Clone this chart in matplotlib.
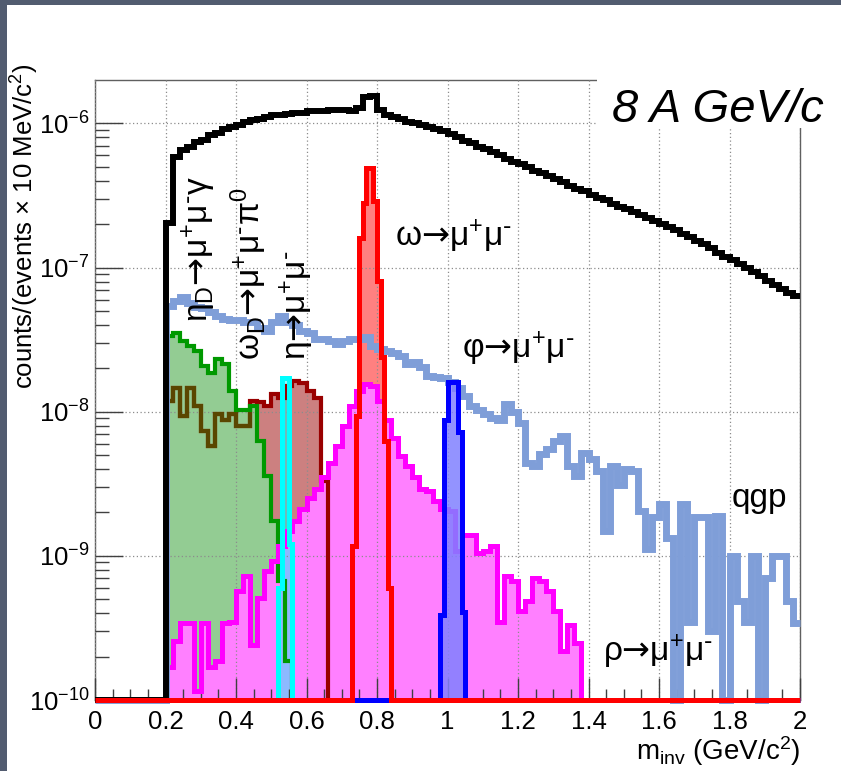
import numpy as np
import matplotlib
matplotlib.use("Agg")
import matplotlib.pyplot as plt
from matplotlib.patches import Rectangle
from matplotlib.ticker import MultipleLocator, FixedLocator, NullFormatter, FuncFormatter

plt.rcParams['font.family'] = 'Liberation Sans'
plt.rcParams['mathtext.fontset'] = 'custom'
plt.rcParams['mathtext.rm'] = 'Liberation Sans'
plt.rcParams['mathtext.it'] = 'Liberation Sans:italic'
plt.rcParams['mathtext.bf'] = 'Liberation Sans:bold'
plt.rcParams['mathtext.sf'] = 'DejaVu Sans'   # only used for arrows and hyphens

# counts/(events x 10 MeV/c^2)
YMIN, YMAX = 1e-10, 2e-6

# 20 MeV bins starting at 0.20 GeV/c^2
total = [2.05e-7, 5.8e-7, 6.5e-7, 6.9e-7, 7.4e-7, 7.7e-7, 8.3e-7, 8.6e-7, 9.1e-7, 9.4e-7,
         9.7e-7, 1.02e-6, 1.05e-6, 1.08e-6, 1.1e-6, 1.14e-6, 1.15e-6, 1.17e-6, 1.19e-6, 1.19e-6,
         1.21e-6, 1.21e-6, 1.21e-6, 1.23e-6, 1.23e-6, 1.23e-6, 1.21e-6, 1.27e-6, 1.52e-6, 1.56e-6,
         1.23e-6, 1.15e-6, 1.1e-6, 1.07e-6, 1.03e-6, 1.0e-6, 9.7e-7, 9.4e-7, 9.1e-7, 8.8e-7,
         8.4e-7, 8.0e-7, 7.6e-7, 7.3e-7, 6.9e-7, 6.6e-7, 6.3e-7, 6.0e-7, 5.7e-7, 5.4e-7,
         5.2e-7, 4.95e-7, 4.7e-7, 4.5e-7, 4.3e-7, 4.1e-7, 3.9e-7, 3.7e-7, 3.5e-7, 3.4e-7,
         3.2e-7, 3.06e-7, 2.92e-7, 2.78e-7, 2.65e-7, 2.53e-7, 2.41e-7, 2.3e-7, 2.19e-7, 2.09e-7,
         1.99e-7, 1.9e-7, 1.81e-7, 1.7e-7, 1.62e-7, 1.54e-7, 1.45e-7, 1.36e-7, 1.27e-7, 1.19e-7,
         1.12e-7, 1.05e-7, 1.0e-7, 9.3e-8, 8.7e-8, 8.1e-8, 7.6e-8, 7.1e-8, 6.7e-8, 6.3e-8]

qgp = [5.4e-8, 5.9e-8, 6.2e-8, 5.7e-8, 5.3e-8, 5.2e-8, 4.9e-8, 4.6e-8, 4.4e-8, 4.3e-8,
       4.3e-8, 4.2e-8, 4.2e-8, 3.8e-8, 3.65e-8, 4.2e-8, 4.6e-8, 4.2e-8, 4.0e-8, 3.65e-8,
       3.5e-8, 3.2e-8, 3.2e-8, 3.1e-8, 2.95e-8, 3.1e-8, 3.2e-8, 3.2e-8, 3.3e-8, 2.87e-8,
       2.73e-8, 2.65e-8, 2.55e-8, 2.45e-8, 2.15e-8, 2.2e-8, 2.05e-8, 1.78e-8, 1.73e-8, 1.7e-8,
       1.6e-8, 1.45e-8, 1.29e-8, 1.1e-8, 1.02e-8, 9.7e-9, 9.0e-9, 8.7e-9, 1.13e-8, 9.9e-9,
       8.4e-9, 4.4e-9, 4.2e-9, 5.1e-9, 5.5e-9, 6.3e-9, 6.8e-9, 4.2e-9, 3.6e-9, 5.2e-9,
       4.7e-9, 3.9e-9, 1.49e-9, 4.2e-9, 3.1e-9, 4.0e-9, 3.9e-9, 2.05e-9, 1.12e-9, 1.85e-9,
       2.3e-9, 1.32e-9, 0, 2.3e-9, 3.5e-10, 1.85e-9, 1.85e-9, 3.0e-10, 1.9e-9, 0,
       1.0e-9, 4.9e-10, 3.5e-10, 1.0e-9, 0, 7.0e-10, 1.0e-9, 1.0e-9, 4.9e-10, 3.4e-10]

eta_dalitz = [3.37e-8, 3.5e-8, 3.1e-8, 2.87e-8, 2.65e-8, 2.08e-8, 1.86e-8, 2.33e-8, 2.15e-8,
              1.4e-8, 1.02e-8, 1.02e-8, 1.1e-8, 6.3e-9, 3.6e-9, 1.75e-9, 6.7e-10, 1.87e-10]

omega_dalitz = [1.19e-8, 1.47e-8, 9.4e-9, 1.47e-8, 1.1e-8, 7.4e-9, 5.8e-9, 9.6e-9, 8.7e-9,
                9.6e-9, 8.0e-9, 8.0e-9, 1.19e-8, 1.17e-8, 1.1e-8, 1.33e-8, 1.24e-8, 1.51e-8,
                1.64e-8, 1.59e-8, 1.4e-8, 1.24e-8, 3.3e-9]

rho = [1.7e-10, 2.57e-10, 3.4e-10, 3.4e-10, 1.15e-10, 3.4e-10, 1.7e-10, 1.87e-10, 3.4e-10,
       3.5e-10, 5.7e-10, 7.3e-10, 2.4e-10, 5.1e-10, 7.9e-10, 9.2e-10, 1.17e-9, 1.49e-9,
       1.75e-9, 2.1e-9, 2.5e-9, 2.9e-9, 3.5e-9, 4.4e-9, 5.8e-9, 8.0e-9, 1.1e-8, 1.4e-8,
       1.56e-8, 1.51e-8, 1.19e-8, 8.7e-9, 6.6e-9, 4.9e-9, 4.2e-9, 3.5e-9, 2.9e-9, 2.83e-9,
       2.41e-9, 2.1e-9, 2.05e-9, 1.08e-9, 1.4e-9, 1.4e-9, 1.04e-9, 1.08e-9, 1.17e-9, 3.5e-10,
       7.3e-10, 6.7e-10, 4.15e-10, 4.9e-10, 7.0e-10, 6.7e-10, 5.7e-10, 4.15e-10, 2.19e-10,
       3.3e-10, 2.5e-10]

# 10 MeV bins for the narrow resonances
omega_start = 0.73
omega = [1.17e-9, 9.4e-9, 1.6e-7, 2.8e-7, 4.9e-7, 4.9e-7, 2.9e-7, 8.1e-8, 2.4e-8, 6.3e-9, 6.0e-10]
phi_start = 0.98
phi = [3.9e-10, 8.7e-9, 1.6e-8, 1.6e-8, 1.6e-8, 7.2e-9, 4.1e-10]
eta_start = 0.52
eta = [6.0e-10, 1.7e-8, 1.7e-8, 1.2e-9]

y_decades = [1e-10, 1e-9, 1e-8, 1e-7, 1e-6]

W, H = 841, 771
fig = plt.figure(figsize=(W / 100, H / 100), dpi=100)


def fx(px):
    return px / W


def fy(py):
    return 1 - py / H


ax = fig.add_axes([fx(95), fy(700), fx(800) - fx(95), fy(80) - fy(700)])
ax.set_yscale('log')


def bin_edges(start, n, width):
    return start + width * np.arange(n + 1)


def full_range(start, vals, width=0.01):
    # histogram over 0-2 GeV, empty bins stay at zero
    n = int(round(2.0 / width))
    out = np.zeros(n)
    i0 = int(round(start / width))
    out[i0:i0 + len(vals)] = vals
    return out


def clean(vals):
    vals = np.asarray(vals, dtype=float)
    return np.where(vals > 0, vals, YMIN)


def hist(vals, edges, color, lw, z, fill=None, fz=1.0, falpha=1.0, base=YMIN):
    v = clean(vals)
    fp = None
    if fill is not None:
        fp = ax.stairs(v, edges, baseline=YMIN, fill=True, color=fill, alpha=falpha, lw=0, zorder=fz)
    ax.stairs(v, edges, baseline=base, color=color, lw=lw, zorder=z, clip_on=False)
    return fp


e20 = lambda vals: bin_edges(0.20, len(vals), 0.02)
fine = np.linspace(0, 2, 201)
coarse = np.linspace(0, 2, 101)

# omega dalitz, with its line shown darker where it sits under the eta dalitz fill
hist(omega_dalitz, e20(omega_dalitz), '#990000', 3.0, 3.0, fill='#cc8080', fz=1.0)
green = hist(eta_dalitz, e20(eta_dalitz), '#009900', 3.0, 3.1, fill='#93cc93', fz=1.1)
olive = ax.stairs(clean(omega_dalitz), e20(omega_dalitz), baseline=YMIN, color='#5a4600', lw=3.0, zorder=3.05)
olive.set_clip_path(green)

ax.stairs(clean(full_range(omega_start, omega)), fine, baseline=YMIN, fill=True, color='#ff8080', lw=0, zorder=1.2)
hist(rho, e20(rho), '#ff00ff', 3.6, 3.2, fill='#ff80ff', fz=1.3)
hist(full_range(eta_start, eta), fine, '#00ffff', 3.6, 3.3, fill='#00ffff', fz=1.4, falpha=0.45)
hist(full_range(0.20, qgp, 0.02), coarse, '#7f9ed8', 5.0, 3.4, base=None)
hist(full_range(phi_start, phi), fine, '#0000ff', 3.6, 3.5, fill='#8080ff', fz=3.45, falpha=0.85)
hist(full_range(0.20, total, 0.02), coarse, '#000000', 4.3, 3.55, base=None)
hist(full_range(omega_start, omega), fine, '#ff0000', 3.6, 3.6)

ax.set_xlim(0, 2)
ax.set_ylim(YMIN, YMAX)
ax.set_axisbelow(False)
ax.grid(True, which='major', color='#8c8c8c', linestyle=(0, (1, 2)), linewidth=0.9)
ax.xaxis.set_major_locator(MultipleLocator(0.2))
ax.xaxis.set_minor_locator(MultipleLocator(0.05))
ax.xaxis.set_major_formatter(FuncFormatter(lambda v, p: f'{v:g}'))
ax.yaxis.set_major_locator(FixedLocator(y_decades))
ax.yaxis.set_minor_locator(FixedLocator([m * d for d in y_decades for m in range(2, 10) if m * d < YMAX]))
ax.yaxis.set_major_formatter(FuncFormatter(lambda v, p: r'$\mathdefault{10^{%d}}$' % round(np.log10(v))))
ax.yaxis.set_minor_formatter(NullFormatter())
ax.tick_params(which='both', direction='in', top=False, right=False, color='#404040', width=1)
ax.tick_params(axis='x', which='major', length=16, labelsize=18.5, pad=7)
ax.tick_params(axis='x', which='minor', length=8)
ax.tick_params(axis='y', which='major', length=20, labelsize=18.5, pad=4)
ax.tick_params(axis='y', which='minor', length=10)
for s in ax.spines.values():
    s.set_color('#606060')
    s.set_linewidth(1.0)

fig.text(fx(25), fy(63), r'counts/(events $\times$ 10 MeV/c$^{2}$)', rotation=90,
         ha='center', va='top', fontsize=18.5)
fig.text(fx(800), fy(768), r'm$_{\mathrm{inv}}$ (GeV/c$^{2}$)', ha='right', va='bottom', fontsize=20)

# decay channel labels
lab = dict(fontsize=24, color='black', zorder=10)
arrow = r'\mathsf{→}'
mumu = r'\mu^{+}\mu^{\mathsf{‐}}'
fig.text(fx(395), fy(236), r'$\mathrm{\omega' + arrow + mumu + '}$', ha='left', va='center', **lab)
fig.text(fx(462), fy(349), r'$\mathrm{\varphi' + arrow + mumu + '}$', ha='left', va='center', **lab)
fig.text(fx(732), fy(498), 'qgp', ha='left', va='center', **lab)
fig.text(fx(603), fy(652), r'$\mathrm{\rho' + arrow + mumu + '}$', ha='left', va='center', **lab)
fig.text(fx(199), fy(322), r'$\mathrm{\eta_{D}' + arrow + mumu + r'\gamma}$', rotation=90,
         ha='center', va='bottom', **lab)
fig.text(fx(249), fy(360), r'$\mathrm{\omega_{D}' + arrow + mumu + r'\pi^{0}}$', rotation=90,
         ha='center', va='bottom', **lab)
fig.text(fx(297), fy(360), r'$\mathrm{\eta' + arrow + mumu + '}$', rotation=90,
         ha='center', va='bottom', **lab)

# energy tag on a white patch over the frame corner
fig.add_artist(Rectangle((fx(597), fy(128)), 1 - fx(597), fy(60) - fy(128),
                         transform=fig.transFigure, facecolor='white', edgecolor='none', zorder=5))
fig.text(fx(612), fy(122), '8 A GeV/c', style='italic', fontsize=34, ha='left', va='baseline', zorder=6)

# slide border
slate = '#525c70'
fig.add_artist(Rectangle((0, fy(5)), 1, 1 - fy(5), transform=fig.transFigure,
                         facecolor=slate, edgecolor='none', zorder=7))
fig.add_artist(Rectangle((0, 0), fx(7), 1, transform=fig.transFigure,
                         facecolor=slate, edgecolor='none', zorder=7))

fig.savefig('out.png', dpi=100)
